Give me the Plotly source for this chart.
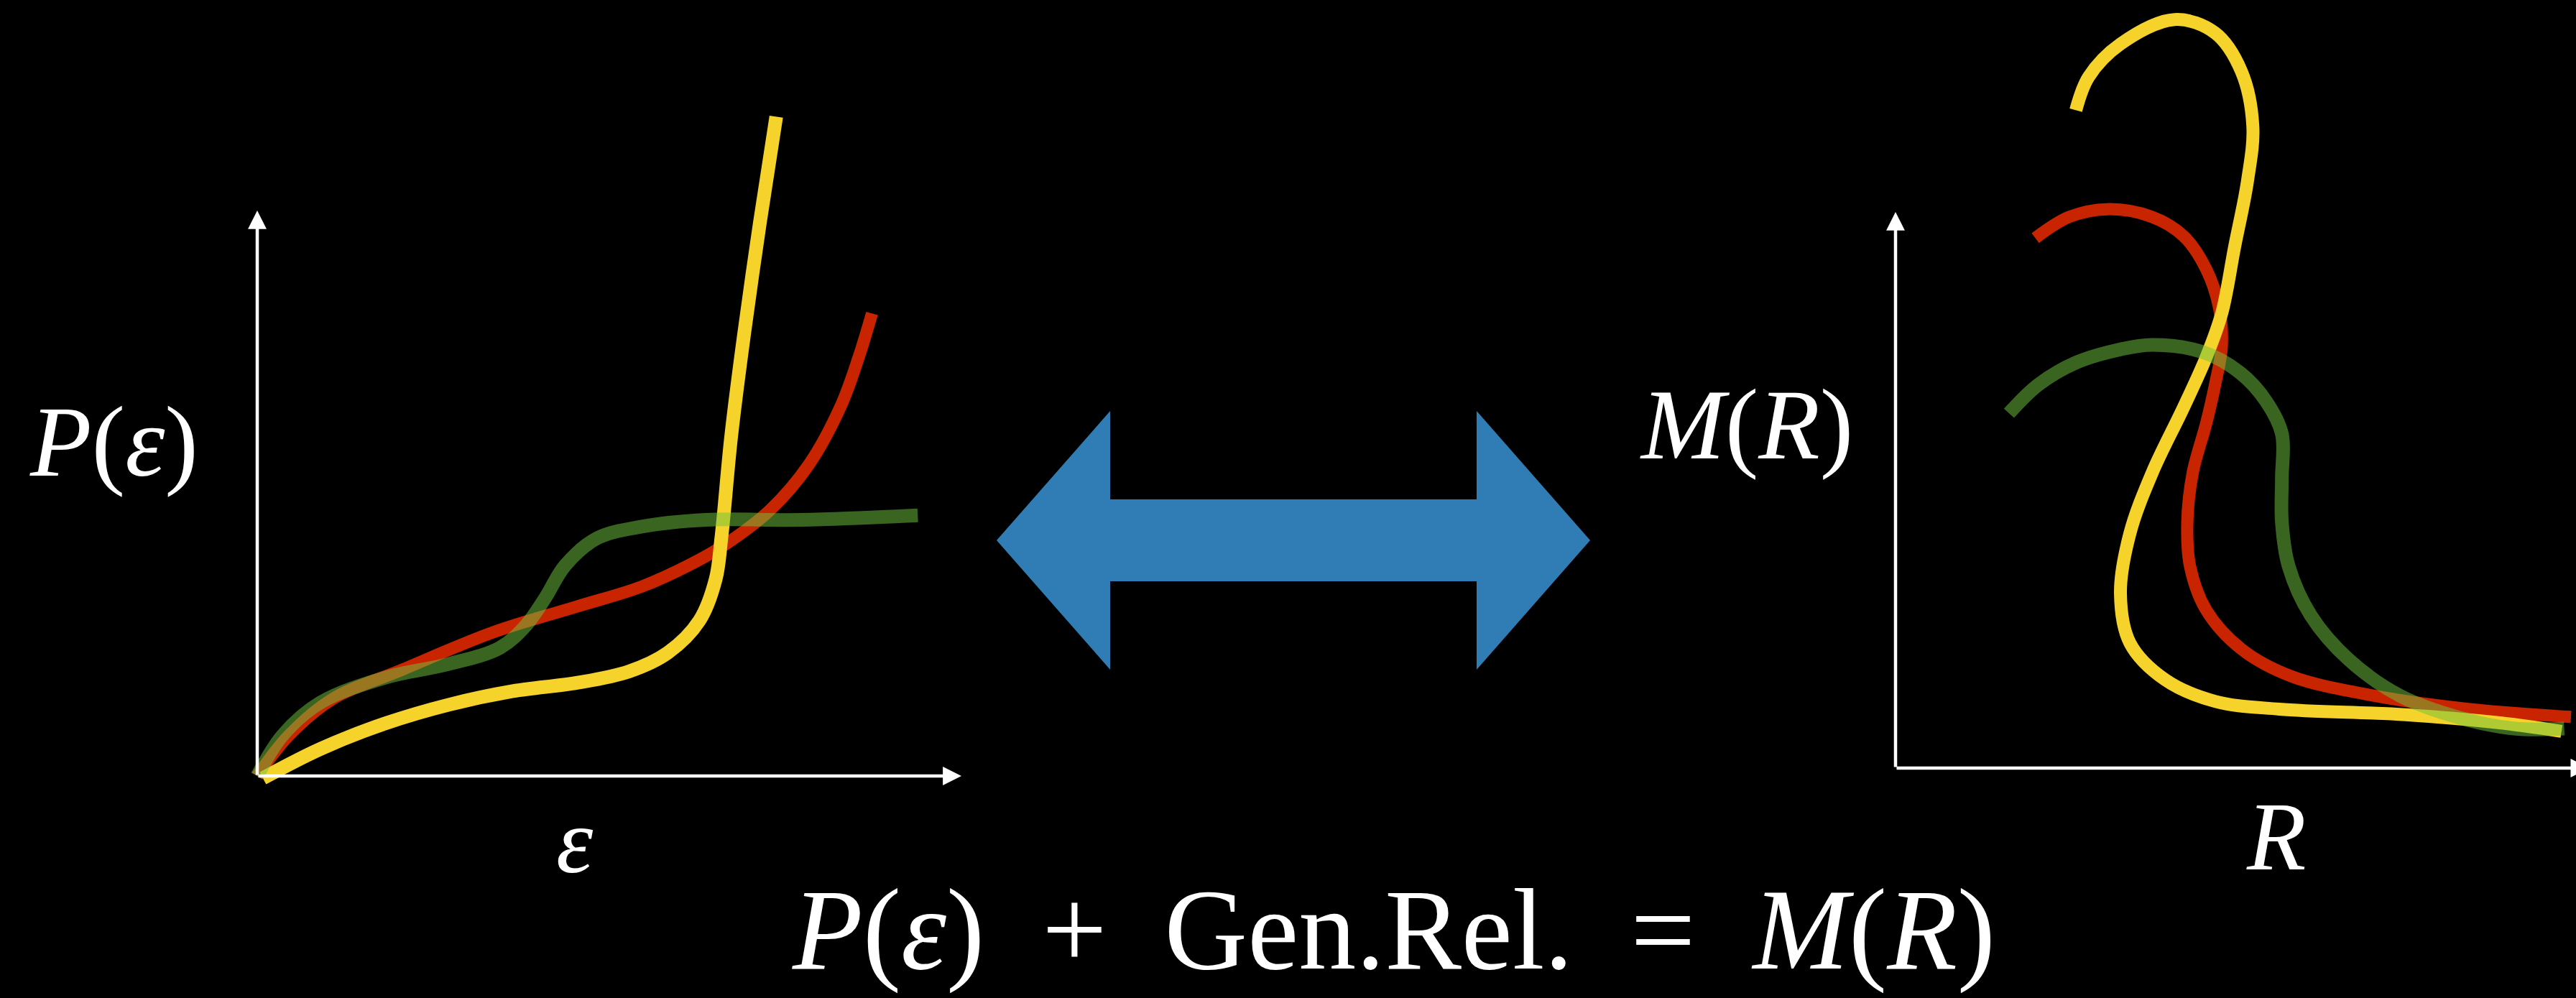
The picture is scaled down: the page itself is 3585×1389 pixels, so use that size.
import plotly.graph_objects as go

W, H = 3585, 1389

# ---- Equation of state panel: P(ε) for three sample EOS ----
eps_yellow = [0.008, 0.090, 0.182, 0.272, 0.363, 0.455, 0.528, 0.583, 0.628,
              0.651, 0.659, 0.673, 0.691, 0.714, 0.737]
P_yellow = [-0.004, 0.048, 0.093, 0.126, 0.150, 0.165, 0.185, 0.218, 0.275,
            0.348, 0.420, 0.600, 0.778, 0.980, 1.166]

eps_red = [0.0, 0.045, 0.108, 0.200, 0.337, 0.455, 0.546, 0.618, 0.664,
           0.728, 0.783, 0.829, 0.855, 0.873]
P_red = [0.0, 0.072, 0.137, 0.185, 0.255, 0.300, 0.335, 0.376, 0.409,
         0.470, 0.550, 0.655, 0.744, 0.818]

eps_green = [0.0, 0.036, 0.090, 0.182, 0.272, 0.345, 0.382, 0.409, 0.437,
             0.482, 0.546, 0.637, 0.773, 0.938]
P_green = [0.0, 0.072, 0.130, 0.174, 0.198, 0.227, 0.267, 0.315, 0.372,
           0.420, 0.441, 0.453, 0.453, 0.461]

# ---- Mass–radius panel: M(R) for the same three EOS ----
R_yellow = [0.267, 0.286, 0.333, 0.413, 0.473, 0.512, 0.529, 0.521, 0.502,
            0.483, 0.460, 0.427, 0.380, 0.347, 0.333, 0.347, 0.399, 0.473,
            0.568, 0.755, 0.897, 0.986]
M_yellow = [1.183, 1.243, 1.302, 1.346, 1.322, 1.253, 1.154, 1.055, 0.937,
            0.818, 0.739, 0.650, 0.531, 0.422, 0.314, 0.225, 0.159, 0.120,
            0.106, 0.096, 0.081, 0.066]

R_red = [0.207, 0.257, 0.314, 0.380, 0.427, 0.460, 0.479, 0.483, 0.473,
         0.460, 0.440, 0.432, 0.436, 0.460, 0.512, 0.586, 0.709, 0.850, 1.000]
M_red = [0.953, 0.991, 1.005, 0.991, 0.956, 0.897, 0.828, 0.758, 0.689,
         0.620, 0.531, 0.442, 0.363, 0.284, 0.214, 0.165, 0.130, 0.106, 0.092]

R_green = [0.168, 0.211, 0.267, 0.333, 0.380, 0.455, 0.512, 0.549, 0.572,
           0.572, 0.572, 0.582, 0.615, 0.671, 0.747, 0.831, 0.916, 0.990]
M_green = [0.638, 0.689, 0.729, 0.753, 0.761, 0.748, 0.709, 0.659, 0.601,
           0.521, 0.442, 0.363, 0.274, 0.195, 0.130, 0.092, 0.071, 0.071]

# Axis arrow lengths (in data units)
EPS_TIP, P_TIP = 1.0, 1.0
R_TIP, M_TIP = 1.027, 1.0

YELLOW = "#f6d32b"
RED = "#c92400"
GREEN = "rgba(112,194,62,0.52)"
BLUE = "#2f7db4"
FONT = "Liberation Serif"

# pixel placement of each panel's origin and unit lengths
L_OX, L_OY, L_UX, L_UY = 358, 1080, 980, 787
R_OX, R_OY, R_UX, R_UY = 2638, 1069, 940, 774


def xr(ox, ux):
    return [-ox / ux, (W - ox) / ux]


def yr(oy, uy):
    return [-(H - oy) / uy, oy / uy]


def px(x):
    return x / W


def py(y):
    return 1 - y / H


fig = go.Figure()

# draw order: red, yellow, then translucent green on top
for xs, ys, col, w, ax in [
    (eps_red, P_red, RED, 17, ("x", "y")),
    (eps_yellow, P_yellow, YELLOW, 19, ("x", "y")),
    (eps_green, P_green, GREEN, 19, ("x", "y")),
    (R_red, M_red, RED, 17, ("x2", "y2")),
    (R_yellow, M_yellow, YELLOW, 18, ("x2", "y2")),
    (R_green, M_green, GREEN, 19, ("x2", "y2")),
]:
    fig.add_trace(go.Scatter(
        x=xs, y=ys, mode="lines", xaxis=ax[0], yaxis=ax[1],
        line=dict(color=col, width=w, shape="spline", smoothing=1.0),
        hoverinfo="skip", showlegend=False,
    ))

# axis arrows
arrow_style = dict(text="", showarrow=True, arrowhead=2, arrowsize=1.15,
                   arrowwidth=4.5, arrowcolor="white")
annotations = [
    dict(x=0, y=P_TIP, ax=0, ay=0, xref="x", yref="y", axref="x", ayref="y", **arrow_style),
    dict(x=EPS_TIP, y=0, ax=0, ay=0, xref="x", yref="y", axref="x", ayref="y", **arrow_style),
    dict(x=0, y=M_TIP, ax=0, ay=0, xref="x2", yref="y2", axref="x2", ayref="y2", **arrow_style),
    dict(x=R_TIP, y=0, ax=0, ay=0, xref="x2", yref="y2", axref="x2", ayref="y2", **arrow_style),
]


def label(text, cx, cy, size):
    return dict(text=text, x=px(cx), y=py(cy), xref="paper", yref="paper",
                xanchor="center", yanchor="middle", showarrow=False,
                font=dict(family=FONT, size=size, color="white"))


annotations += [
    label("<i>P</i>(<i>ε</i>)", 158, 614, 140),
    label("<i>ε</i>", 800, 1170, 130),
    label("<i>M</i>(<i>R</i>)", 2430, 591, 140),
    label("<i>R</i>", 3167, 1164, 135),
    label("<i>P</i>(<i>ε</i>) \u2005+ \u2005Gen.Rel. \u2005= \u2005<i>M</i>(<i>R</i>)",
          1939, 1294, 160),
]

# double-headed arrow linking the two panels
cx, cy = 1800, 752
half_len, head_len, head_half, shaft_half = 413, 158, 180, 57
pts = [
    (cx - half_len, cy),
    (cx - half_len + head_len, cy - head_half),
    (cx - half_len + head_len, cy - shaft_half),
    (cx + half_len - head_len, cy - shaft_half),
    (cx + half_len - head_len, cy - head_half),
    (cx + half_len, cy),
    (cx + half_len - head_len, cy + head_half),
    (cx + half_len - head_len, cy + shaft_half),
    (cx - half_len + head_len, cy + shaft_half),
    (cx - half_len + head_len, cy + head_half),
]
path = "M " + " L ".join(f"{px(a):.6f},{py(b):.6f}" for a, b in pts) + " Z"
shapes = [dict(type="path", path=path, xref="paper", yref="paper",
               fillcolor=BLUE, line=dict(width=0), layer="below")]

hidden = dict(visible=False, showgrid=False, zeroline=False, domain=[0, 1])
fig.update_layout(
    width=W, height=H,
    margin=dict(l=0, r=0, t=0, b=0),
    paper_bgcolor="black", plot_bgcolor="rgba(0,0,0,0)",
    xaxis=dict(range=xr(L_OX, L_UX), **hidden),
    yaxis=dict(range=yr(L_OY, L_UY), **hidden),
    xaxis2=dict(range=xr(R_OX, R_UX), overlaying="x", **hidden),
    yaxis2=dict(range=yr(R_OY, R_UY), overlaying="y", **hidden),
    annotations=annotations,
    shapes=shapes,
    showlegend=False,
)

fig.write_html("out.html", config={"displayModeBar": False})
